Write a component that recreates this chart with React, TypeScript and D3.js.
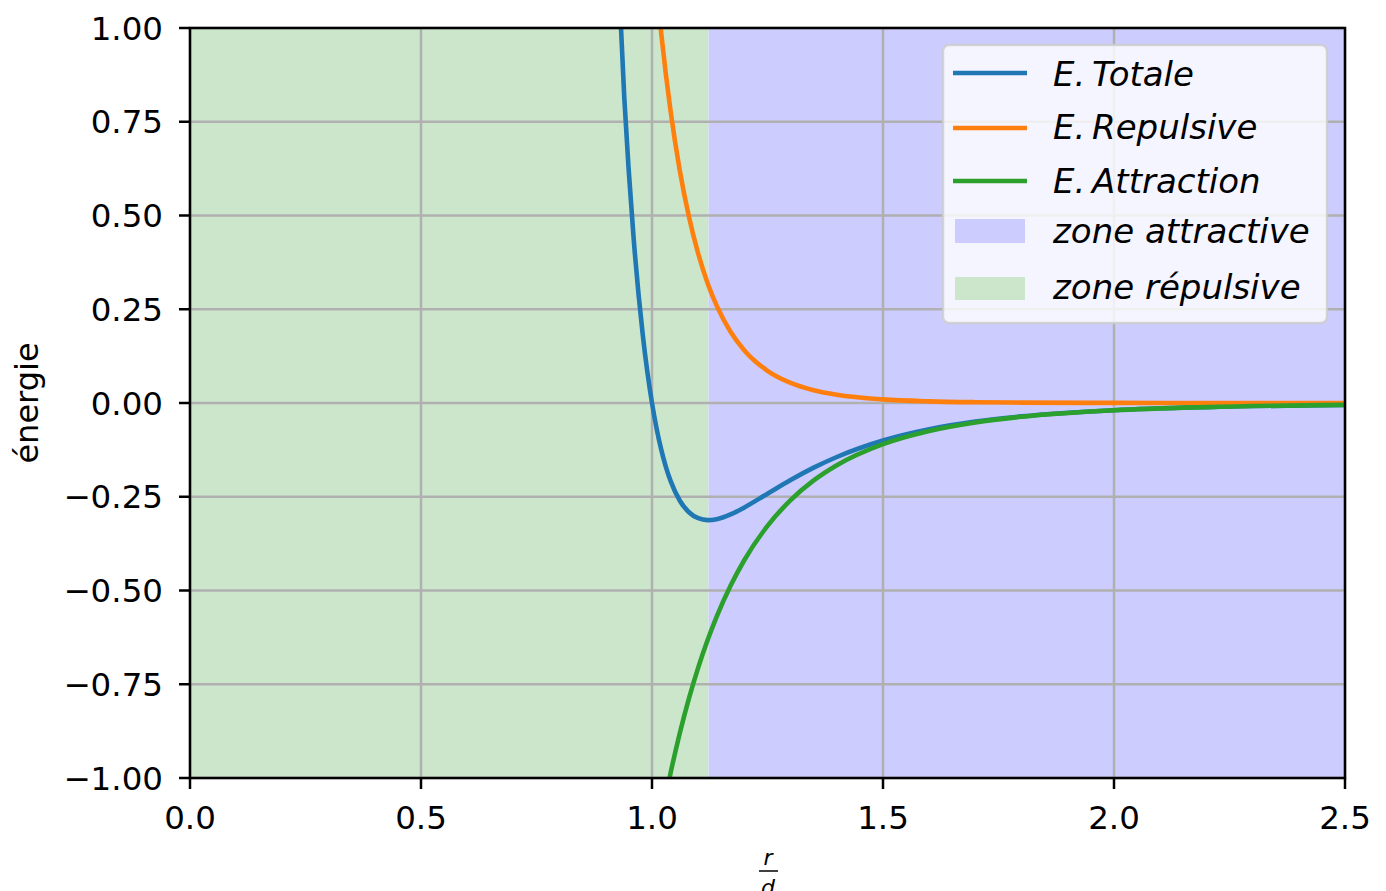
import React from 'react';
import * as d3 from 'd3';

const rValues = [0.92, 0.94, 0.96, 0.98, 1.0, 1.01, 1.02, 1.03, 1.04, 1.06, 1.08, 1.1, 1.12, 1.14, 1.17, 1.2, 1.25, 1.3, 1.35, 1.4, 1.5, 1.6, 1.7, 1.8, 2.0, 2.2, 2.5];
const totalEnergy = [1.339, 0.8144, 0.4432, 0.1818, 0, -0.0682, -0.1244, -0.1701, -0.2071, -0.26, -0.2913, -0.3073, -0.3124, -0.31, -0.2973, -0.2784, -0.2418, -0.2053, -0.1724, -0.144, -0.1001, -0.0701, -0.0496, -0.0357, -0.0192, -0.0109, -0.0051];
const repulsiveEnergy = [3.4004, 2.6263, 2.0401, 1.5929, 1.25, 1.1093, 0.9856, 0.8767, 0.7808, 0.6212, 0.4964, 0.3983, 0.3208, 0.2595, 0.19, 0.1402, 0.0859, 0.0537, 0.0341, 0.022, 0.0096, 0.0044, 0.0021, 0.0011, 0.0003, 0.0001, 0.0];
const attractionEnergy = [-2.0617, -1.8119, -1.5969, -1.4111, -1.25, -1.1776, -1.11, -1.0469, -0.9879, -0.8812, -0.7877, -0.7056, -0.6333, -0.5695, -0.4873, -0.4186, -0.3277, -0.259, -0.2065, -0.166, -0.1097, -0.0745, -0.0518, -0.0368, -0.0195, -0.011, -0.0051];

const repulsiveZone = [0, 1.1225];
const attractiveZone = [1.1225, 2.5];

const xTicks = [0, 0.5, 1.0, 1.5, 2.0, 2.5];
const xTickLabels = ['0.0', '0.5', '1.0', '1.5', '2.0', '2.5'];
const yTicks = [-1, -0.75, -0.5, -0.25, 0, 0.25, 0.5, 0.75, 1];
const yTickLabels = ['−1.00', '−0.75', '−0.50', '−0.25', '0.00', '0.25', '0.50', '0.75', '1.00'];

const seriesNames = ['E.Totale', 'E.Repulsive', 'E.Attraction'];
const seriesColors = ['#1f77b4', '#ff7f0e', '#2ca02c'];
const zoneNames = ['zone attractive', 'zone répulsive'];

const W = 1386;
const H = 891;
const L = 190, R = 1345, T = 28, B = 778;
const FONT = '"DejaVu Sans", sans-serif';

export default function App() {
  const x = d3.scaleLinear().domain([0, 2.5]).range([L, R]);
  const y = d3.scaleLinear().domain([-1, 1]).range([B, T]);
  const series = [totalEnergy, repulsiveEnergy, attractionEnergy];
  const line = d3
    .line<number>()
    .x((_, i) => x(rValues[i]))
    .y((d) => y(d))
    .curve(d3.curveMonotoneX);

  const legendX = 943, legendY = 45, legendW = 384, legendH = 278;
  const lineRows = [73, 128, 181];
  const lineBase = [86, 139, 193];
  const patchRows = [[219, 243], [277, 300]];
  const patchBase = [243, 299];
  const zoneFills = ['#ccccff', '#cce6cc'];

  return (
    <svg width={W} height={H} style={{ position: 'absolute', left: 0, top: 0 }} fontFamily={FONT}>
      <defs>
        <clipPath id="plot">
          <rect x={L} y={T} width={R - L} height={B - T} />
        </clipPath>
      </defs>
      <rect x={0} y={0} width={W} height={H} fill="#fff" />
      <rect x={x(repulsiveZone[0])} y={T} width={x(repulsiveZone[1]) - x(repulsiveZone[0])} height={B - T} fill="#cce6cc" />
      <rect x={x(attractiveZone[0])} y={T} width={x(attractiveZone[1]) - x(attractiveZone[0])} height={B - T} fill="#ccccff" />
      {xTicks.map((t) => (
        <line key={'gx' + t} x1={x(t)} x2={x(t)} y1={T} y2={B} stroke="#b0b0b0" strokeWidth={2.5} />
      ))}
      {yTicks.map((t) => (
        <line key={'gy' + t} x1={L} x2={R} y1={y(t)} y2={y(t)} stroke="#b0b0b0" strokeWidth={2.5} />
      ))}
      <g clipPath="url(#plot)">
        {series.map((s, i) => (
          <path key={i} d={line(s) || ''} fill="none" stroke={seriesColors[i]} strokeWidth={4.6} />
        ))}
      </g>
      <rect x={L} y={T} width={R - L} height={B - T} fill="none" stroke="#000" strokeWidth={2.5} />
      {xTicks.map((t, i) => (
        <g key={'tx' + t}>
          <line x1={x(t)} x2={x(t)} y1={B} y2={B + 11} stroke="#000" strokeWidth={2.5} />
          <text x={x(t)} y={829} fontSize={32.5} textAnchor="middle" fill="#000">{xTickLabels[i]}</text>
        </g>
      ))}
      {yTicks.map((t, i) => (
        <g key={'ty' + t}>
          <line x1={L - 11} x2={L} y1={y(t)} y2={y(t)} stroke="#000" strokeWidth={2.5} />
          <text x={163} y={y(t)} dy="0.36em" fontSize={32.5} textAnchor="end" fill="#000">{yTickLabels[i]}</text>
        </g>
      ))}
      <text transform="translate(38,403) rotate(-90)" fontSize={32} textAnchor="middle" fill="#000">énergie</text>
      <text x={768} y={865} fontSize={22} fontStyle="italic" textAnchor="middle" fill="#000">r</text>
      <line x1={759} x2={778} y1={871} y2={871} stroke="#000" strokeWidth={1.5} />
      <text x={768} y={895} fontSize={22} fontStyle="italic" textAnchor="middle" fill="#000">d</text>
      <rect x={legendX} y={legendY} width={legendW} height={legendH} rx={6} fill="#fff" fillOpacity={0.8} stroke="#cccccc" strokeOpacity={0.8} strokeWidth={2.5} />
      {seriesNames.map((n, i) => (
        <g key={n}>
          <line x1={953} x2={1027} y1={lineRows[i]} y2={lineRows[i]} stroke={seriesColors[i]} strokeWidth={4.6} />
          <text x={1053} y={lineBase[i]} fontSize={34} fontStyle="italic" fill="#000">{n.replace('.', '.\u2009')}</text>
        </g>
      ))}
      {zoneNames.map((n, i) => (
        <g key={n}>
          <rect x={955} y={patchRows[i][0]} width={70} height={patchRows[i][1] - patchRows[i][0]} fill={zoneFills[i]} />
          <text x={1053} y={patchBase[i]} fontSize={34} fontStyle="italic" fill="#000">{n}</text>
        </g>
      ))}
    </svg>
  );
}
